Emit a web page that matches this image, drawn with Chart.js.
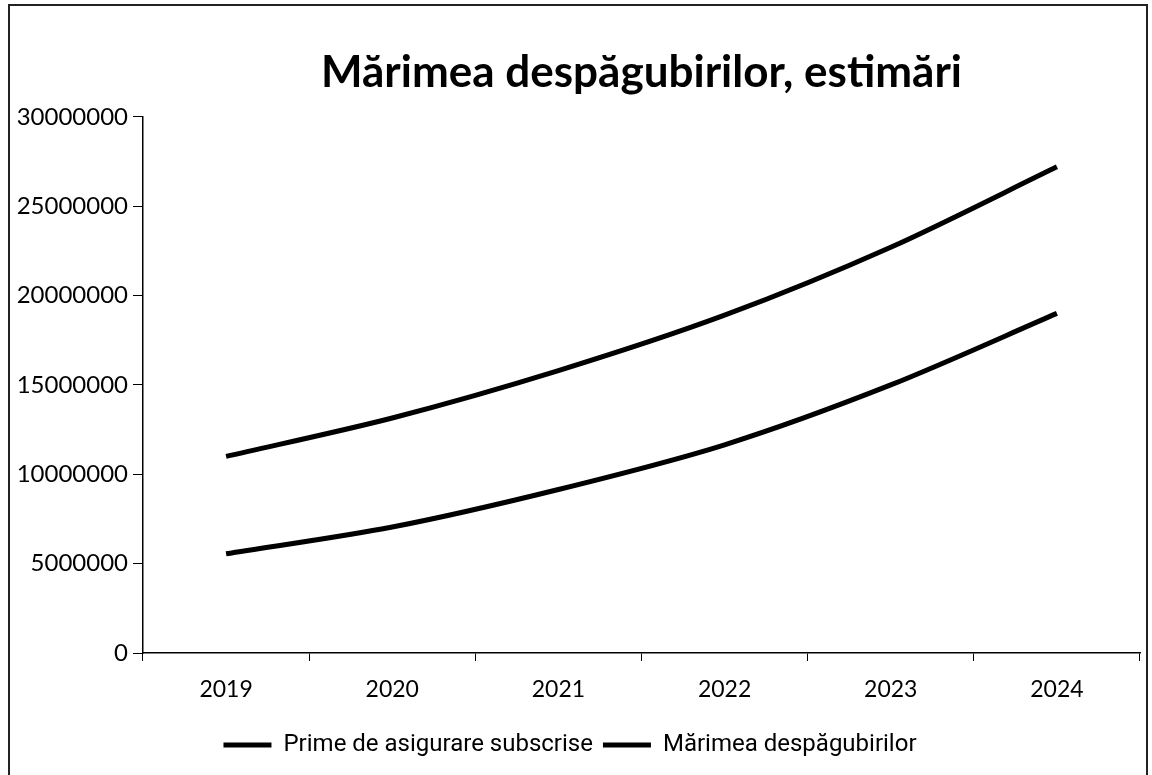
<!DOCTYPE html>
<html>
<head>
<meta charset="utf-8">
<script src="https://cdn.jsdelivr.net/npm/chart.js@4.4.1/dist/chart.umd.min.js"></script>
<style>
  body { margin: 0; background: #fff; }
  #frame { position: absolute; left: 8px; top: 4px; width: 1140px; height: 790px; border: 2px solid #222; box-sizing: border-box; }
  #wrap { position: absolute; left: 0; top: 0; width: 1152px; height: 775px; }
</style>
</head>
<body>
<div id="frame"></div>
<div id="wrap"><canvas id="my-chart" width="1152" height="775"></canvas></div>
<script>
'use strict';

// ********** DATA **********
let years = ['2019', '2020', '2021', '2022', '2023', '2024'];
let primeSubscrise = [11000000, 13150000, 15800000, 18900000, 22700000, 27200000];
let marimeaDespagubirilor = [5550000, 7050000, 9150000, 11650000, 15000000, 19000000];
let yTicks = [0, 5000000, 10000000, 15000000, 20000000, 25000000, 30000000];

let ctx = document.getElementById('my-chart').getContext('2d');

let myChartObj = {
  type: 'line',
  data: {
    labels: years,
    datasets: [{
      label: 'Prime de asigurare subscrise',
      data: primeSubscrise,
      borderColor: '#000',
      backgroundColor: '#000',
      borderWidth: 5,
      pointRadius: 0,
      tension: 0.3
    },
    {
      label: 'Mărimea despăgubirilor',
      data: marimeaDespagubirilor,
      borderColor: '#000',
      backgroundColor: '#000',
      borderWidth: 5,
      pointRadius: 0,
      tension: 0.3
    }]
  },
  options: {
    responsive: false,
    animation: false,
    layout: { padding: { left: 0, right: 12, top: 28, bottom: 8 } },
    plugins: {
      title: {
        display: true,
        fullSize: false,
        text: 'Mărimea despăgubirilor, estimări',
        color: '#000',
        font: { family: 'Lato', size: 44, weight: 'bold' },
        padding: { top: 18, bottom: 18 }
      },
      legend: {
        position: 'bottom',
        labels: {
          color: '#000',
          font: { family: "'Liberation Sans Narrow', 'Roboto', sans-serif", size: 24 },
          usePointStyle: true,
          pointStyle: 'line',
          pointStyleWidth: 48,
          boxHeight: 20,
          padding: 10
        }
      },
      tooltip: { enabled: false }
    },
    scales: {
      x: {
        offset: true,
        grid: { offset: true, drawOnChartArea: false, color: '#000', tickLength: 8 },
        border: { color: '#000', width: 1.5 },
        ticks: { color: '#000', font: { family: 'Lato', size: 23 }, padding: 15 },
        afterFit: function(scale) { scale.height = 70; }
      },
      y: {
        min: 0,
        max: 30000000,
        afterBuildTicks: function(scale) { scale.ticks = yTicks.map(function(v) { return { value: v }; }); },
        grid: { drawOnChartArea: false, color: '#000', tickLength: 10 },
        border: { color: '#000', width: 1.5 },
        ticks: { color: '#000', font: { family: 'Lato', size: 24 }, padding: 5, callback: function(v) { return String(v); } },
        afterFit: function(scale) { scale.width = 143; }
      }
    }
  }
};

new Chart(ctx, myChartObj);
</script>
</body>
</html>
